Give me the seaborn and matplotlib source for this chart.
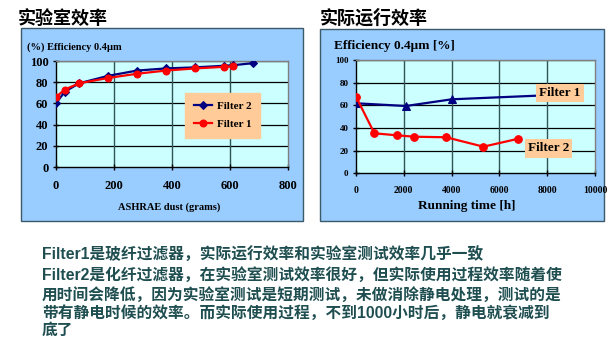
import matplotlib
matplotlib.use("Agg")
import matplotlib.pyplot as plt
from matplotlib.patches import Rectangle
import pandas as pd
import seaborn as sns

# 实验室效率 (ASHRAE dust loading)
lab_dust_f2 = [0, 30, 80, 180, 280, 380, 480, 580, 610, 680]
lab_eff_f2 = [60, 71, 79, 86, 91, 93, 94, 95.5, 96, 98]
lab_dust_f1 = [0, 30, 80, 180, 280, 380, 480, 580, 610]
lab_eff_f1 = [66, 73, 79, 84, 88, 91, 93, 94.5, 95]

# 实际运行效率 (running time)
run_h_f1 = [0, 2090, 4000, 7560]
run_eff_f1 = [61.8, 59.4, 65.3, 68.5]
run_h_f2 = [0, 770, 1730, 2430, 3770, 5330, 6790]
run_eff_f2 = [67.6, 35.3, 33.5, 32.3, 31.8, 23.5, 30.5]

navy = "#000080"
red = "#FF0000"
serif = "Liberation Serif"
cjk = ["Noto Sans CJK SC", "DejaVu Sans"]
W, H = 615, 355

fig = plt.figure(figsize=(6.15, 3.55), dpi=100)
fig.patch.set_facecolor("white")


def px_box(x0, y0, x1, y1):
    return [x0 / W, 1 - y1 / H, (x1 - x0) / W, (y1 - y0) / H]


# panel backgrounds
for (x0, y0, x1, y1) in [(21, 28, 303, 221), (320, 29, 604, 221)]:
    fig.patches.append(Rectangle((x0 / W, 1 - y1 / H), (x1 - x0) / W, (y1 - y0) / H,
                                 transform=fig.transFigure, facecolor="#99CCFF",
                                 edgecolor="#3A5A6A", lw=1.0, zorder=-5))

fig.text(18 / W, 1 - 18 / H, "实验室效率", family=cjk, fontsize=13,
         fontweight="bold", va="center", ha="left")
fig.text(320 / W, 1 - 18 / H, "实际运行效率", family=cjk, fontsize=13,
         fontweight="bold", va="center", ha="left")


def style_axes(ax, xmax, xstep, ysize, xsize, xpad):
    ax.set_facecolor("#CCFFFF")
    ax.set_ylim(0, 100)
    ax.set_xlim(0, xmax)
    ax.set_yticks(range(0, 101, 20))
    ax.set_xticks(range(0, xmax + 1, xstep))
    ax.grid(False)
    for y in range(20, 101, 20):
        ax.axhline(y, color="black", lw=0.9, zorder=1)
    for x in range(xstep, xmax, xstep):
        ax.axvline(x, color="#2F5555", lw=1.0, zorder=1)
    for s in ["top", "right"]:
        ax.spines[s].set_color("#7F7F7F")
        ax.spines[s].set_linewidth(1.0)
    for s in ["left", "bottom"]:
        ax.spines[s].set_color("black")
        ax.spines[s].set_linewidth(1.0)
    ax.tick_params(axis="both", direction="inout", length=5, width=1, color="black")
    ax.tick_params(axis="y", labelsize=ysize, pad=3)
    ax.tick_params(axis="x", labelsize=xsize, pad=xpad)
    for lab in ax.get_xticklabels() + ax.get_yticklabels():
        lab.set_family(serif)
        lab.set_fontweight("bold")
    ax.set_xlabel("")
    ax.set_ylabel("")


# left chart
ax1 = fig.add_axes(px_box(56, 61, 288, 167), zorder=2)
df2 = pd.DataFrame({"x": lab_dust_f2, "y": lab_eff_f2})
df1 = pd.DataFrame({"x": lab_dust_f1, "y": lab_eff_f1})
sns.lineplot(data=df2, x="x", y="y", ax=ax1, color=navy, marker="D", markersize=4.5,
             markeredgecolor=navy, lw=1.6, sort=False, estimator=None, label="Filter 2", zorder=3)
sns.lineplot(data=df1, x="x", y="y", ax=ax1, color=red, marker="o", markersize=5,
             markeredgecolor=red, lw=1.6, sort=False, estimator=None, label="Filter 1", zorder=4)
style_axes(ax1, 800, 200, 9, 9, 7)
leg = ax1.legend(loc="upper left", bbox_to_anchor=(0.534, 0.755), frameon=True,
                 prop={"family": serif, "weight": "bold", "size": 8},
                 handlelength=1.6, borderpad=0.8, labelspacing=0.7, fancybox=False,
                 handletextpad=0.4)
leg.get_frame().set_facecolor("#FFCC99")
leg.get_frame().set_edgecolor("#FFCC99")
leg.get_frame().set_alpha(1)
fig.text(27 / W, 1 - 47 / H, "(%) Efficiency 0.4µm", family=serif, fontweight="bold",
         fontsize=7.5, va="center", ha="left")
fig.text(169 / W, 1 - 207 / H, "ASHRAE dust (grams)", family=serif, fontweight="bold",
         fontsize=7.5, va="center", ha="center")

# right chart
ax2 = fig.add_axes(px_box(356, 60, 595, 173.3), zorder=2)
dr1 = pd.DataFrame({"x": run_h_f1, "y": run_eff_f1})
dr2 = pd.DataFrame({"x": run_h_f2, "y": run_eff_f2})
sns.lineplot(data=dr1, x="x", y="y", ax=ax2, color=navy, marker="^", markersize=6,
             markeredgecolor=navy, lw=1.6, sort=False, estimator=None, zorder=3,
             markevery=[0, 1, 2])
sns.lineplot(data=dr2, x="x", y="y", ax=ax2, color=red, marker="o", markersize=5.5,
             markeredgecolor=red, lw=1.6, sort=False, estimator=None, zorder=4)
style_axes(ax2, 10000, 2000, 6.5, 7, 7)
if ax2.get_legend():
    ax2.get_legend().remove()
ax2.text(8535, 70.9, "Filter 1", family=serif, fontweight="bold", fontsize=9.5,
         ha="center", va="center", zorder=5,
         bbox=dict(boxstyle="square,pad=0.25", facecolor="#FFCC99", edgecolor="none"))
ax2.text(8054, 21.9, "Filter 2", family=serif, fontweight="bold", fontsize=9.5,
         ha="center", va="center", zorder=5,
         bbox=dict(boxstyle="square,pad=0.25", facecolor="#FFCC99", edgecolor="none"))
fig.text(334 / W, 1 - 46 / H, "Efficiency 0.4µm [%]", family=serif, fontweight="bold",
         fontsize=9.5, va="center", ha="left")
fig.text(467 / W, 1 - 206 / H, "Running time [h]", family=serif, fontweight="bold",
         fontsize=9.5, va="center", ha="center")

# explanation text
lines = [
    "Filter1是玻纤过滤器，实际运行效率和实验室测试效率几乎一致",
    "Filter2是化纤过滤器，在实验室测试效率很好，但实际使用过程效率随着使",
    "用时间会降低，因为实验室测试是短期测试，未做消除静电处理，测试的是",
    "带有静电时候的效率。而实际使用过程，不到1000小时后，静电就衰减到",
    "底了",
]
ys = [255, 275, 295, 313, 330]
for t, y in zip(lines, ys):
    fig.text(42 / W, 1 - y / H, t, family=["Liberation Sans", "Noto Sans CJK SC"],
             fontweight="bold", fontsize=11.3, color="#1F4E50", va="center", ha="left")

fig.savefig("out.png", dpi=100)
